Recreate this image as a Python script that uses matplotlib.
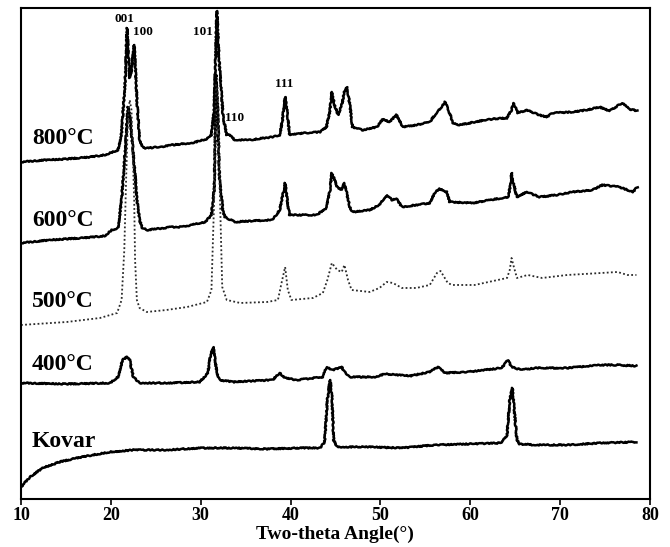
import matplotlib
matplotlib.use("Agg")
import matplotlib.pyplot as plt

# two-theta (deg) / intensity (a.u., already stacked)
x_800 = [10.0, 12.7, 15.1, 17.7, 19.3, 20.8, 21.2, 21.6, 21.8, 22.0, 22.1, 22.3, 22.6, 22.8,
         22.9, 23.2, 23.6, 24.1, 25.5, 26.8, 27.9, 29.0, 29.9, 30.7, 31.2, 31.5, 31.6, 31.8,
         32.0, 32.1, 32.5, 32.9, 33.0, 33.2, 33.8, 35.5, 37.1, 38.0, 38.8, 39.1, 39.4, 39.6,
         39.9, 41.6, 43.3, 44.0, 44.4, 44.6, 44.9, 45.3, 45.7, 46.0, 46.3, 46.6, 46.9, 48.0,
         49.6, 50.3, 51.0, 51.8, 52.5, 54.0, 55.5, 56.3, 56.7, 57.2, 57.7, 58.1, 58.8, 61.1,
         62.5, 64.1, 64.6, 64.8, 65.3, 66.3, 67.7, 68.5, 69.2, 71.4, 73.0, 74.4, 75.5, 76.9,
         77.7, 78.6]
y_800 = [337, 339, 340, 342, 344, 349, 366, 419, 471, 439, 421, 429, 454, 419,
         399, 359, 351, 351, 352, 354, 355, 356, 358, 360, 364, 389, 422, 488,
         449, 432, 382, 364, 365, 364, 359, 359, 361, 362, 364, 379, 402, 389,
         364, 366, 367, 372, 389, 407, 394, 384, 394, 407, 412, 394, 372, 369,
         372, 380, 377, 384, 372, 374, 377, 387, 391, 397, 386, 376, 374, 378,
         380, 381, 389, 396, 386, 389, 384, 382, 386, 387, 389, 392, 388, 396,
         390, 388]

x_600 = [10.0, 13.2, 16.8, 19.3, 20.1, 20.8, 21.2, 21.6, 21.9, 22.1, 22.3, 22.7, 22.9, 23.2,
         23.5, 24.1, 26.8, 27.9, 30.5, 31.2, 31.5, 31.6, 31.7, 31.9, 32.1, 32.5, 32.7, 33.8,
         35.5, 38.0, 38.8, 39.4, 39.7, 39.9, 42.9, 44.0, 44.4, 44.6, 45.2, 45.7, 46.0, 46.6,
         46.9, 48.8, 49.9, 50.7, 51.3, 51.8, 52.4, 54.0, 55.5, 56.1, 56.6, 57.4, 57.7, 60.3,
         62.2, 64.2, 64.5, 64.6, 64.8, 65.2, 66.3, 67.7, 69.6, 71.4, 73.6, 74.7, 76.6, 78.1,
         78.6]
y_600 = [256, 259, 261, 263, 269, 271, 299, 349, 392, 384, 366, 324, 299, 279,
         271, 269, 272, 272, 277, 284, 309, 349, 424, 389, 319, 287, 282, 277,
         278, 279, 289, 316, 294, 284, 284, 291, 309, 326, 312, 309, 316, 292,
         287, 289, 294, 304, 299, 300, 292, 294, 296, 307, 310, 307, 297, 296,
         299, 302, 314, 326, 316, 302, 307, 302, 304, 307, 309, 314, 312, 307,
         312]

x_500 = [10.0, 15.1, 18.8, 20.7, 21.2, 21.5, 21.7, 21.9, 22.1, 22.3, 22.6, 22.7, 22.9, 23.2,
         24.0, 26.2, 28.5, 30.7, 31.2, 31.5, 31.7, 31.9, 32.1, 32.4, 32.9, 34.4, 37.4, 38.6,
         39.0, 39.4, 39.7, 40.1, 42.5, 43.6, 44.1, 44.6, 45.2, 45.7, 46.0, 46.4, 46.8, 48.8,
         49.9, 50.7, 51.4, 52.4, 54.0, 55.5, 56.3, 56.7, 57.5, 58.0, 60.5, 64.1, 64.4, 64.6,
         64.8, 65.2, 66.4, 68.0, 70.8, 74.6, 76.4, 77.5, 78.5]
y_500 = [174, 177, 181, 186, 199, 249, 319, 379, 399, 389, 299, 239, 199, 191,
         187, 189, 192, 197, 209, 299, 414, 409, 319, 212, 199, 196, 197, 199,
         216, 232, 209, 199, 201, 206, 219, 236, 229, 227, 234, 219, 209, 207,
         211, 217, 216, 211, 211, 214, 226, 228, 216, 214, 214, 221, 229, 241,
         234, 221, 224, 221, 224, 226, 227, 224, 224]

x_400 = [10.0, 15.1, 19.9, 20.8, 21.3, 21.8, 22.1, 22.5, 23.2, 26.2, 29.9, 30.8, 31.1, 31.4,
         31.6, 31.8, 32.1, 33.6, 38.0, 38.8, 39.4, 40.7, 43.6, 44.0, 44.7, 45.7, 46.0, 46.6,
         49.4, 50.5, 53.3, 55.5, 56.4, 57.2, 59.7, 63.5, 64.2, 64.6, 65.7, 67.2, 70.8, 74.6,
         76.4, 78.5]
y_400 = [116, 115, 116, 122, 139, 142, 139, 122, 116, 116, 117, 126, 144, 152,
         139, 127, 119, 117, 119, 126, 121, 119, 122, 132, 129, 132, 127, 122,
         122, 125, 123, 127, 132, 126, 127, 131, 139, 132, 129, 131, 131, 134,
         134, 133]

x_kovar = [10.0, 11.0, 12.4, 14.3, 16.2, 18.0, 19.9, 22.5, 26.2, 29.9, 33.6, 37.4, 41.0, 43.3,
           43.8, 44.1, 44.4, 44.6, 44.8, 45.2, 48.6, 52.4, 56.1, 63.5, 64.1, 64.4, 64.7, 64.9,
           65.2, 65.5, 67.2, 70.8, 74.6, 78.5]
y_kovar = [12, 22, 31, 37, 41, 44, 47, 49, 49, 51, 51, 50, 51, 51,
           57, 99, 119, 104, 59, 52, 52, 51, 54, 56, 64, 99, 111, 89,
           59, 55, 54, 54, 56, 57]

curve_names = ["800°C", "600°C", "500°C", "400°C", "Kovar"]
label_y = [360, 278, 197, 134, 57]

peak_names = ["001", "100", "101", "110", "111"]
peak_x = [21.5, 23.6, 30.2, 33.8, 39.3]
peak_y = [480, 467, 467, 381, 415]

xticks = [10, 20, 30, 40, 50, 60, 70, 80]

serif = ["Liberation Serif", "DejaVu Serif"]

fig = plt.figure(figsize=(6.70, 5.47), dpi=100)
ax = fig.add_axes([0.0313, 0.0878, 0.9387, 0.8976])

curves = [(x_800, y_800), (x_600, y_600), (x_500, y_500), (x_400, y_400), (x_kovar, y_kovar)]
for i, (xs, ys) in enumerate(curves):
    if curve_names[i] == "500°C":
        ln, = ax.plot(xs, ys, color="#2a2a2a", lw=1.3, ls=(0, (1, 1.3)))
    else:
        ln, = ax.plot(xs, ys, color="black", lw=1.8)
        ln.set_sketch_params(scale=0.6, length=3, randomness=3)

for name, ly in zip(curve_names, label_y):
    ax.text(11.2, ly, name, fontsize=17, fontweight="bold", family=serif,
            va="center", ha="left")

for name, px, py in zip(peak_names, peak_x, peak_y):
    ax.text(px, py, name, fontsize=9.5, fontweight="bold", family=serif,
            va="center", ha="center")

ax.set_xlim(10, 80)
ax.set_ylim(0, 491)
ax.set_xticks(xticks)
ax.set_xticklabels([str(t) for t in xticks], fontsize=13, fontweight="bold", family=serif)
ax.set_yticks([])
ax.tick_params(axis="x", direction="out", length=4, width=1.2, pad=2)
for sp in ax.spines.values():
    sp.set_linewidth(1.5)

ax.set_xlabel("Two-theta Angle(°)", fontsize=14, fontweight="bold", family=serif, labelpad=1)

fig.savefig("out.png", dpi=100)
